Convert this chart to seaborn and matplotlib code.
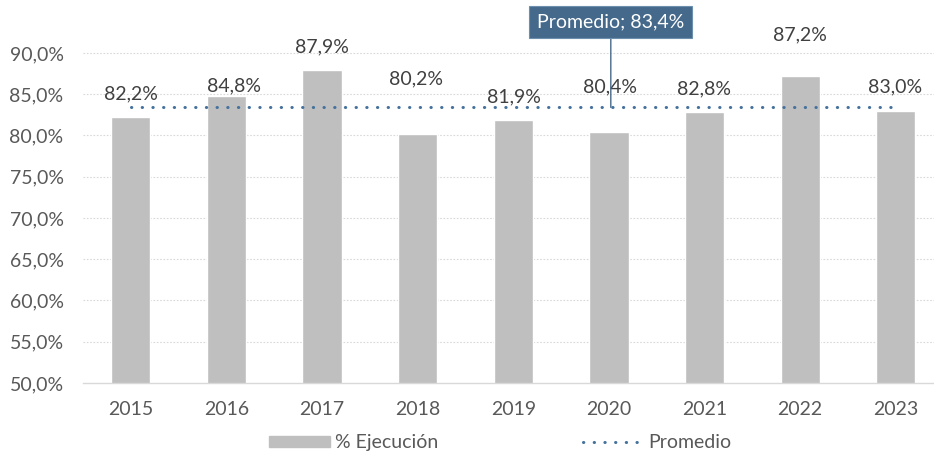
import pandas as pd
import matplotlib
matplotlib.use('Agg')
import matplotlib.pyplot as plt
from matplotlib.patches import Patch
from matplotlib.lines import Line2D
import seaborn as sns

# datos
anios = ['2015', '2016', '2017', '2018', '2019', '2020', '2021', '2022', '2023']
ejecucion = [82.2, 84.8, 87.9, 80.2, 81.9, 80.4, 82.8, 87.2, 83.0]
promedio = [83.4, 83.4, 83.4, 83.4, 83.4, 83.4, 83.4, 83.4, 83.4]

# posicion vertical de las etiquetas (como quedaron en el grafico original)
etiqueta_y = [85.0, 86.0, 90.7, 86.8, 84.7, 85.9, 85.6, 92.2, 85.9]
etiqueta_dx = [0.0, 0.08, 0.0, -0.02, 0.01, 0.01, -0.01, 0.0, -0.01]

sns.set_style('white')
plt.rcParams['font.family'] = ['Lato', 'DejaVu Sans']
gris_txt = '#595959'
azul = '#44729D'
fs = 14

df = pd.DataFrame({'anio': anios, 'ejecucion': ejecucion})

fig = plt.figure(figsize=(9.34, 4.57), dpi=100)
ax = fig.add_axes([83 / 934, 74 / 457, 851 / 934, 383 / 457])

sns.barplot(data=df, x='anio', y='ejecucion', color='#BFBFBF', saturation=1,
            width=0.41, ax=ax, zorder=2)
ax.plot(range(len(anios)), promedio, color=azul, lw=2.2,
        dashes=(0.1, 3.4), dash_capstyle='round', zorder=3)

for i, v in enumerate(ejecucion):
    ax.text(i + etiqueta_dx[i], etiqueta_y[i], f'{v:.1f}%'.replace('.', ','),
            ha='center', va='center', fontsize=fs, color='#404040')

ax.annotate(f'Promedio; {promedio[0]:.1f}%'.replace('.', ','),
            xy=(5.02, promedio[0]), xytext=(5.02, 93.75),
            ha='center', va='center', fontsize=fs, color='white',
            bbox=dict(boxstyle='square,pad=0.4', fc='#45698B', ec='#6d8fae', lw=0.8),
            arrowprops=dict(arrowstyle='-', color='#45698B', lw=1.0,
                            shrinkA=0, shrinkB=0))

ax.set_xlim(-0.5, 8.40)
ax.set_ylim(50, 96.42)
ticks = [50, 55, 60, 65, 70, 75, 80, 85, 90]
ax.set_yticks(ticks)
ax.set_yticklabels([f'{t:.1f}%'.replace('.', ',') for t in ticks])
ax.tick_params(axis='both', length=0, labelsize=fs, labelcolor=gris_txt)
ax.tick_params(axis='y', pad=14)
ax.tick_params(axis='x', pad=13)
ax.set_xlabel('')
ax.set_ylabel('')
for t in ticks[1:]:
    ax.axhline(t, color='#D9D9D9', lw=0.8, ls=(0, (1.5, 1.5)), zorder=1)
for s in ['left', 'right', 'top']:
    ax.spines[s].set_visible(False)
ax.spines['bottom'].set_color('#D9D9D9')
ax.spines['bottom'].set_linewidth(1.0)

handles = [Patch(color='#BFBFBF', label='% Ejecución'),
           Line2D([0], [0], color=azul, lw=2.2, dashes=(0.1, 3.4),
                  dash_capstyle='round', label='Promedio')]
fig.legend(handles=handles, loc='center', bbox_to_anchor=(0.536, 0.031), ncol=2,
           frameon=False, fontsize=fs, handlelength=3.1, handleheight=0.5,
           columnspacing=7.4, handletextpad=0.3, labelcolor=gris_txt)

fig.savefig('out.png', dpi=100)
